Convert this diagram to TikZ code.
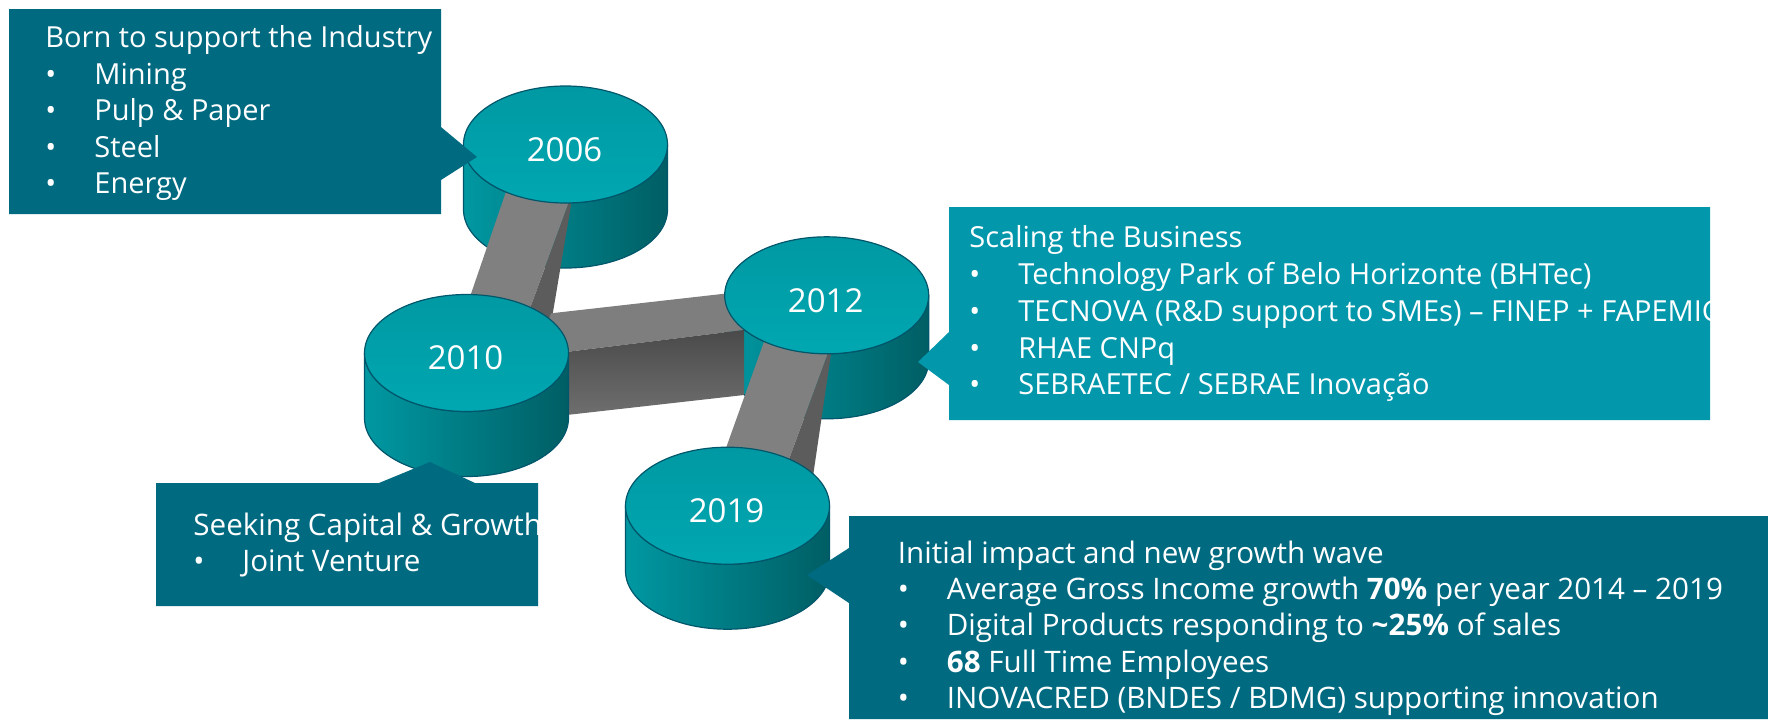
\documentclass[tikz,border=0pt]{standalone}
\usepackage{fontspec}
\setmainfont{Open Sans}
\usetikzlibrary{calc}

\definecolor{calloutdark}{RGB}{0,106,128}
\definecolor{calloutlight}{RGB}{3,151,172}
\definecolor{cylleft}{RGB}{0,152,162}
\definecolor{cylmid}{RGB}{0,128,136}
\definecolor{cylright}{RGB}{0,94,100}
\definecolor{cyltopA}{RGB}{0,153,163}
\definecolor{cyltopB}{RGB}{0,167,177}
\definecolor{cyledge}{RGB}{0,86,106}
\definecolor{beamfront}{RGB}{128,128,128}
\definecolor{beamside}{RGB}{92,92,92}
\definecolor{beamtop}{RGB}{126,126,126}
\definecolor{beamdarkA}{RGB}{74,74,74}
\definecolor{beamdarkB}{RGB}{112,112,112}

\newcommand{\bul}{\makebox[24.5pt][l]{\textbullet}}

\begin{document}
\begin{tikzpicture}[x=0.5pt,y=-0.5pt,
  cylbody/.style={left color=cylleft,middle color=cylmid,right color=cylright,
    draw=cyledge,line width=0.6pt},
  cyllid/.style={top color=cyltopA,bottom color=cyltopB,draw=cyledge,line width=0.6pt},
  yearlbl/.style={text=white,inner sep=0pt,font=\fontsize{16.5}{20}\selectfont},
  barfront/.style={fill=beamfront},
  barside/.style={fill=beamside},
  bartop/.style={fill=beamtop},
  barfrontdark/.style={top color=beamdarkA,bottom color=beamdarkB},
  txt/.style={text=white,anchor=base west,inner sep=0pt,
    font=\fontsize{14.5}{17}\selectfont},
  txtbig/.style={txt,font=\fontsize{14.8}{17}\selectfont}]

  \useasboundingbox (0,0) rectangle (1768,719);

  \coordinate (c2006) at (565.5,144.5);
  \coordinate (c2010) at (466.5,353);
  \coordinate (c2012) at (826.7,295.3);
  \coordinate (c2019) at (727.5,505.7);

  % back cylinders
  \foreach \yr/\cx/\cy in {2006/565.5/144.5, 2012/826.7/295.3} {
    \path[cylbody] (\cx-102,\cy) -- (\cx-102,\cy+65)
      arc[start angle=180,end angle=0,x radius=102,y radius=58.5]
      -- (\cx+102,\cy)
      arc[start angle=0,end angle=180,x radius=102,y radius=58.5] -- cycle;
  }

  % bars
  \path[barfront] ($(c2006)+(-55.5,35.5)$) -- ($(c2006)+(11.5,35.5)$)
    -- ($(c2010)+(55.5,-23)$) -- ($(c2010)+(-7.9,-23)$) -- cycle;
  \path[barside] ($(c2006)+(8,45.5)$) -- ($(c2010)+(83.5,-23)$)
    -- ($(c2010)+(55.5,-23)$) -- cycle;
  \path[bartop] ($(c2010)+(84.5,-39.7)$) -- ($(c2012)+(-82.7,-3.8)$)
    -- ($(c2012)+(-82.7,34.7)$) -- ($(c2010)+(93.5,-0.3)$)
    -- ($(c2010)+(78.5,-23)$) -- cycle;
  \path[barfrontdark] ($(c2010)+(73.5,2.2)$) -- ($(c2012)+(-82.7,34.7)$)
    -- ($(c2012)+(-82.7,99.7)$) -- ($(c2010)+(73.5,65)$) -- cycle;
  \path[barfront] ($(c2012)+(-58.5,34.7)$) -- ($(c2012)+(9.8,34.7)$)
    -- ($(c2019)+(50.1,-15.7)$) -- ($(c2019)+(-16.5,-15.7)$) -- cycle;
  \path[barside] ($(c2012)+(6.3,44.7)$) -- ($(c2019)+(83.5,-15.7)$)
    -- ($(c2019)+(50.1,-15.7)$) -- cycle;

  % lids of the back cylinders
  \foreach \yr in {2006,2012} {
    \path[cyllid] (c\yr) ellipse[x radius=102,y radius=58.5];
    \node[yearlbl] (y\yr) at ($(c\yr)+(-1,5)$) {\yr};
  }

  % front cylinders
  \foreach \yr/\cx/\cy in {2010/466.5/353, 2019/727.5/505.7} {
    \path[cylbody] (\cx-102,\cy) -- (\cx-102,\cy+65)
      arc[start angle=180,end angle=0,x radius=102,y radius=58.5]
      -- (\cx+102,\cy)
      arc[start angle=0,end angle=180,x radius=102,y radius=58.5] -- cycle;
    \path[cyllid] (c\yr) ellipse[x radius=102,y radius=58.5];
    \node[yearlbl] (y\yr) at ($(c\yr)+(-1,5)$) {\yr};
  }

  % callouts
  \fill[calloutdark] (9,9) -- (441,9) -- (441,127) -- (477,157) -- (441,180)
    -- (441,214) -- (9,214) -- cycle;
  \fill[calloutlight] (949,207) -- (1710,207) -- (1710,420) -- (949,420)
    -- (949,385) -- (918,362) -- (949,332) -- cycle;
  \fill[calloutdark] (156,483) -- (379,483) -- (430,462) -- (475,483)
    -- (538,483) -- (538,606) -- (156,606) -- cycle;
  \fill[calloutdark] (849,516) -- (1768,516) -- (1768,719) -- (849,719)
    -- (849,603) -- (807,575) -- (849,548) -- cycle;

  % texts
  \node[txt] (h2006) at (45,47.5) {Born to support the Industry};
  \foreach \txt [count=\i] in {Mining, Pulp \& Paper, Steel, Energy}
    \node[txt] (i2006-\i) at (45,47.5+36.6*\i) {\bul\txt};

  \begin{scope}
    \clip (949,207) rectangle (1710,420);
    \node[txt] (h2012) at (969,247.3) {Scaling the Business};
    \foreach \txt [count=\i] in {Technology Park of Belo Horizonte (BHTec),
        TECNOVA (R\&D support to SMEs) -- FINEP + FAPEMIG,
        RHAE CNPq, SEBRAETEC / SEBRAE Inovação}
      \node[txt] (i2012-\i) at (969,247.3+36.9*\i) {\bul\txt};
  \end{scope}

  \begin{scope}
    \clip (156,483) rectangle (538,606);
    \node[txtbig] (h2010) at (193,535) {Seeking Capital \& Growth};
    \node[txtbig] (i2010-1) at (193,571.7) {\bul Joint Venture};
  \end{scope}

  \node[txtbig] (h2019) at (897.5,563) {Initial impact and new growth wave};
  \foreach \txt [count=\i] in {Average Gross Income growth \textbf{70\%} per year 2014 -- 2019,
      Digital Products responding to \textbf{\textasciitilde 25\%} of sales,
      \textbf{68} Full Time Employees,
      INOVACRED (BNDES / BDMG) supporting innovation}
    \node[txtbig] (i2019-\i) at (897.5,563+36.4*\i) {\bul\txt};

\end{tikzpicture}
\end{document}
